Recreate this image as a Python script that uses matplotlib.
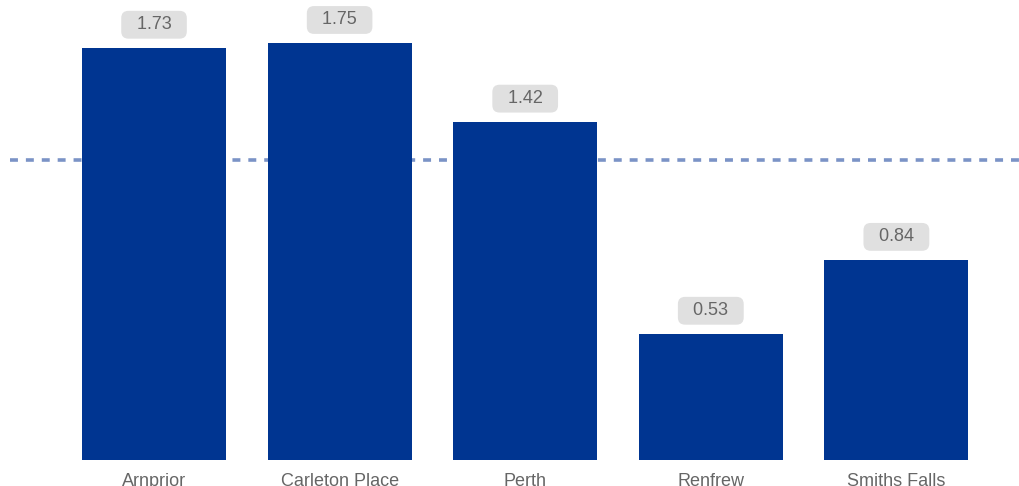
import matplotlib.pyplot as plt

plt.rcParams['font.family'] = ['Liberation Sans', 'DejaVu Sans']

towns = ['Arnprior', 'Carleton Place', 'Perth', 'Renfrew', 'Smiths Falls']
values = [1.73, 1.75, 1.42, 0.53, 0.84]
average = 1.26

fig = plt.figure(figsize=(10.2, 4.86), dpi=100)
ax = fig.add_axes([10 / 1020, 26 / 486, 1010 / 1020, 460 / 486])

x = range(len(towns))
# dotted average line sits behind the bars
ax.axhline(average, color='#7b93c6', lw=2.6, ls=(0, (2.2, 2.2)), zorder=1)
ax.bar(x, values, width=0.776, color='#003591', zorder=2)

for i, v in zip(x, values):
    ax.annotate('  %.2f  ' % v, (i, v), xytext=(0, 16.5), textcoords='offset points',
                ha='center', va='center', fontsize=13, color='#666666',
                bbox=dict(boxstyle='round,pad=0.3,rounding_size=0.4',
                          fc='#e0e0e0', ec='none'), zorder=3)

ax.set_xlim(-0.776, 4.666)
ax.set_ylim(0, 1.93)
ax.set_xticks(list(x))
ax.set_xticklabels(towns, fontsize=13, color='#666666')
ax.tick_params(axis='x', length=0, pad=9)
ax.set_yticks([])
for s in ax.spines.values():
    s.set_visible(False)

fig.savefig('out.png', dpi=100)
